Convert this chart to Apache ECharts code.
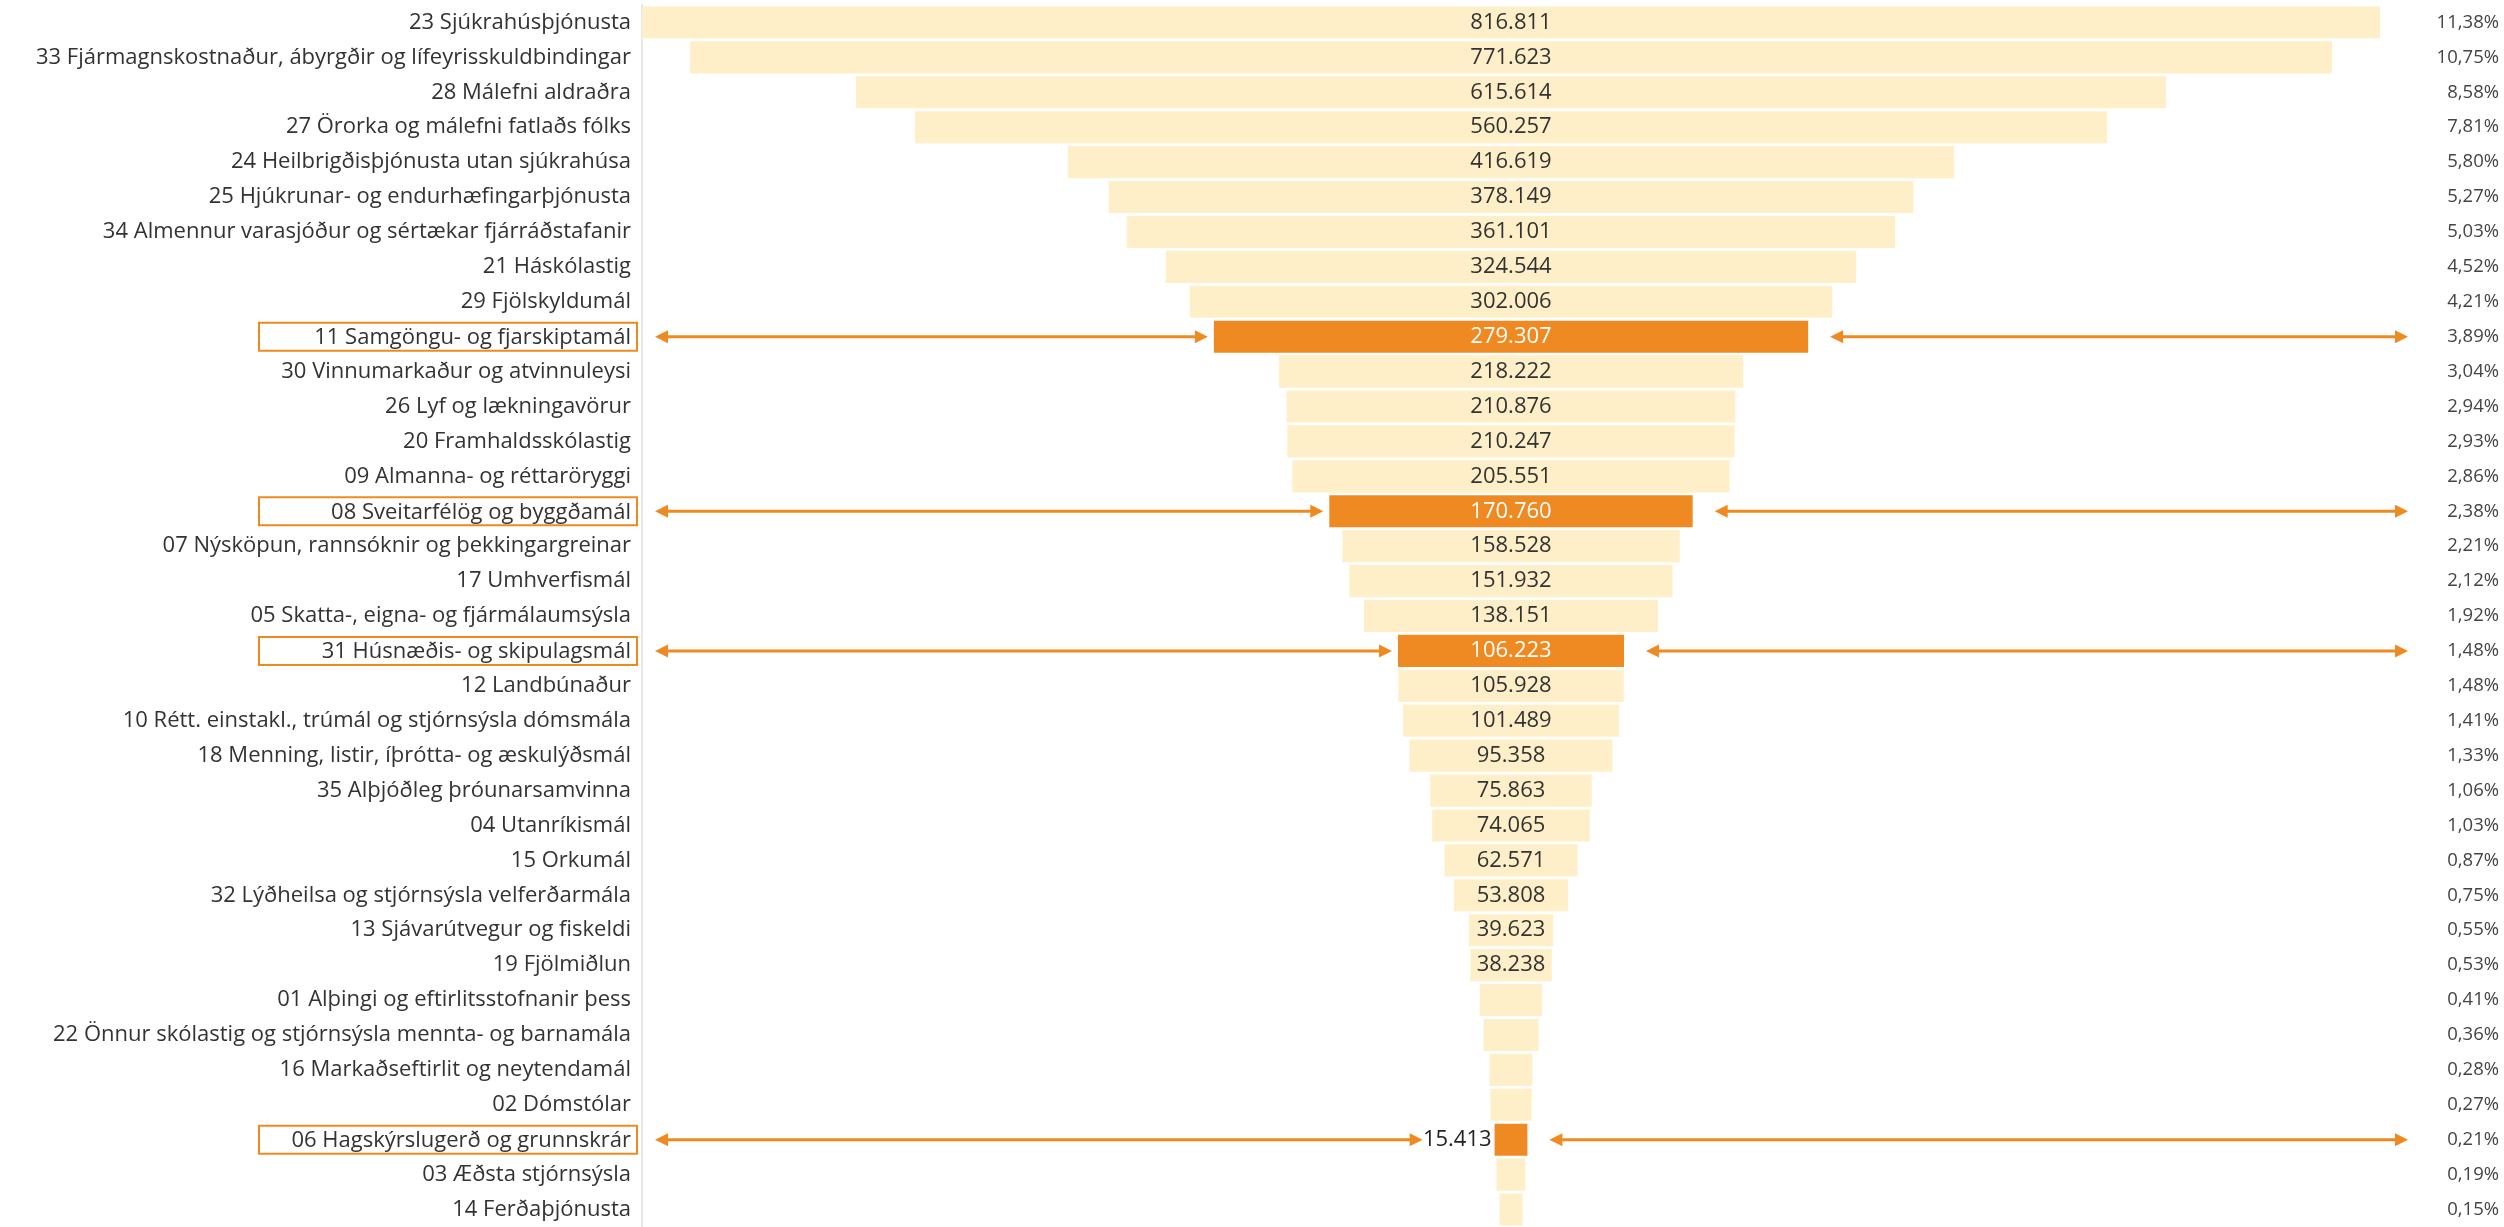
<!DOCTYPE html>
<html>
<head>
<meta charset="utf-8">
<script src="https://cdn.jsdelivr.net/npm/echarts@6/dist/echarts.min.js"></script>
<style>
  html, body { margin: 0; padding: 0; background: #fff; }
  #chart { width: 2504px; height: 1227px; }
</style>
</head>
<body>
<div id="chart"></div>
<script>
// málefnasvið, raðað eftir fjárhæð
var categories = [
  '23 Sjúkrahúsþjónusta',
  '33 Fjármagnskostnaður, ábyrgðir og lífeyrisskuldbindingar',
  '28 Málefni aldraðra',
  '27 Örorka og málefni fatlaðs fólks',
  '24 Heilbrigðisþjónusta utan sjúkrahúsa',
  '25 Hjúkrunar- og endurhæfingarþjónusta',
  '34 Almennur varasjóður og sértækar fjárráðstafanir',
  '21 Háskólastig',
  '29 Fjölskyldumál',
  '11 Samgöngu- og fjarskiptamál',
  '30 Vinnumarkaður og atvinnuleysi',
  '26 Lyf og lækningavörur',
  '20 Framhaldsskólastig',
  '09 Almanna- og réttaröryggi',
  '08 Sveitarfélög og byggðamál',
  '07 Nýsköpun, rannsóknir og þekkingargreinar',
  '17 Umhverfismál',
  '05 Skatta-, eigna- og fjármálaumsýsla',
  '31 Húsnæðis- og skipulagsmál',
  '12 Landbúnaður',
  '10 Rétt. einstakl., trúmál og stjórnsýsla dómsmála',
  '18 Menning, listir, íþrótta- og æskulýðsmál',
  '35 Alþjóðleg þróunarsamvinna',
  '04 Utanríkismál',
  '15 Orkumál',
  '32 Lýðheilsa og stjórnsýsla velferðarmála',
  '13 Sjávarútvegur og fiskeldi',
  '19 Fjölmiðlun',
  '01 Alþingi og eftirlitsstofnanir þess',
  '22 Önnur skólastig og stjórnsýsla mennta- og barnamála',
  '16 Markaðseftirlit og neytendamál',
  '02 Dómstólar',
  '06 Hagskýrslugerð og grunnskrár',
  '03 Æðsta stjórnsýsla',
  '14 Ferðaþjónusta'
];

// fjárhæðir (síðustu línurnar án merkis eru áætlaðar út frá hlutfalli)
var values = [
  816811, 771623, 615614, 560257, 416619, 378149, 361101, 324544, 302006, 279307,
  218222, 210876, 210247, 205551, 170760, 158528, 151932, 138151, 106223, 105928,
  101489, 95358, 75863, 74065, 62571, 53808, 39623, 38238, 29400, 25800,
  20100, 19400, 15413, 13600, 10800
];

// hlutfall af heild, %
var shares = [
  11.38, 10.75, 8.58, 7.81, 5.80, 5.27, 5.03, 4.52, 4.21, 3.89,
  3.04, 2.94, 2.93, 2.86, 2.38, 2.21, 2.12, 1.92, 1.48, 1.48,
  1.41, 1.33, 1.06, 1.03, 0.87, 0.75, 0.55, 0.53, 0.41, 0.36,
  0.28, 0.27, 0.21, 0.19, 0.15
];

var highlighted = [
  '11 Samgöngu- og fjarskiptamál',
  '08 Sveitarfélög og byggðamál',
  '31 Húsnæðis- og skipulagsmál',
  '06 Hagskýrslugerð og grunnskrár'
];

var LIGHT = '#FEEFC9';
var ORANGE = '#EF8A22';
var FONT = 'Open Sans';
var maxVal = values[0];

function fmt(v) {
  return String(v).replace(/\B(?=(\d{3})+(?!\d))/g, '.');
}

var offsetData = values.map(function (v) { return (maxVal - v) / 2; });
var barData = values.map(function (v, i) {
  var hl = highlighted.indexOf(categories[i]) > -1;
  var item = { value: v, itemStyle: { color: hl ? ORANGE : LIGHT } };
  if (hl && v < 35000) {
    item.label = { show: true, position: 'left', distance: 3, color: '#252423' };
  } else if (v < 35000) {
    item.label = { show: false };
  } else if (hl) {
    item.label = { show: true, color: '#fff' };
  }
  return item;
});
var arrowData = [];
categories.forEach(function (c, i) {
  if (highlighted.indexOf(c) > -1) arrowData.push([0, i]);
});

function arrow(x1, x2, y, color) {
  var h = 13, w = 6.5;
  return [
    { type: 'line', shape: { x1: x1 + 4, y1: y, x2: x2 - 4, y2: y }, style: { stroke: color, lineWidth: 3 } },
    { type: 'polygon', shape: { points: [[x1, y], [x1 + h, y - w], [x1 + h, y + w]] }, style: { fill: color } },
    { type: 'polygon', shape: { points: [[x2, y], [x2 - h, y - w], [x2 - h, y + w]] }, style: { fill: color } }
  ];
}

var chart = echarts.init(document.getElementById('chart'));
chart.setOption({
  animation: false,
  grid: { left: 642, right: 124, top: 5, height: 1224 },
  xAxis: { type: 'value', min: 0, max: maxVal, show: false },
  yAxis: [{
    type: 'category',
    data: categories,
    inverse: true,
    axisLine: { show: true, lineStyle: { color: '#E6E6E6', width: 2 } },
    axisTick: { show: false },
    axisLabel: {
      margin: 5,
      interval: 0,
      formatter: function (v) {
        return highlighted.indexOf(v) > -1 ? '{hl|' + v + '}' : '{n|' + v + '}';
      },
      rich: {
        n: { fontFamily: FONT, fontSize: 22, color: '#333', padding: [4, 6, 4, 10] },
        hl: {
          fontFamily: FONT, fontSize: 22, color: '#333', align: 'right',
          width: 362, padding: [4, 6, 2, 10],
          borderColor: ORANGE, borderWidth: 2
        }
      }
    }
  }, {
    type: 'category',
    data: categories,
    inverse: true,
    position: 'right',
    axisLine: { show: false },
    axisTick: { show: false },
    axisLabel: {
      interval: 0,
      margin: 119,
      align: 'right',
      fontFamily: FONT,
      fontSize: 18.5,
      color: '#444',
      formatter: function (v, i) { return shares[i].toFixed(2).replace('.', ',') + '%'; }
    }
  }],
  series: [{
    type: 'bar',
    stack: 'funnel',
    data: offsetData,
    itemStyle: { color: 'transparent' },
    barCategoryGap: '8%',
    silent: true
  }, {
    type: 'bar',
    stack: 'funnel',
    data: barData,
    barCategoryGap: '8%',
    label: {
      show: true,
      position: 'inside',
      fontFamily: FONT,
      fontSize: 22,
      color: '#333',
      formatter: function (p) { return fmt(p.value); }
    }
  }, {
    type: 'custom',
    clip: false,
    z: 5,
    data: arrowData,
    renderItem: function (params, api) {
      var i = api.value(1);
      var v = values[i];
      var y = api.coord([0, i])[1];
      var x0 = api.coord([0, i])[0];
      var bl = api.coord([(maxVal - v) / 2, i])[0];
      var br = api.coord([(maxVal + v) / 2, i])[0];
      var xEnd = api.coord([maxVal, i])[0];
      var leftEnd = v < 35000 ? bl - 72 : bl - 6;
      return {
        type: 'group',
        children: arrow(x0 + 13, leftEnd, y, ORANGE).concat(arrow(br + 22, xEnd + 28, y, ORANGE))
      };
    }
  }]
});
</script>
</body>
</html>
